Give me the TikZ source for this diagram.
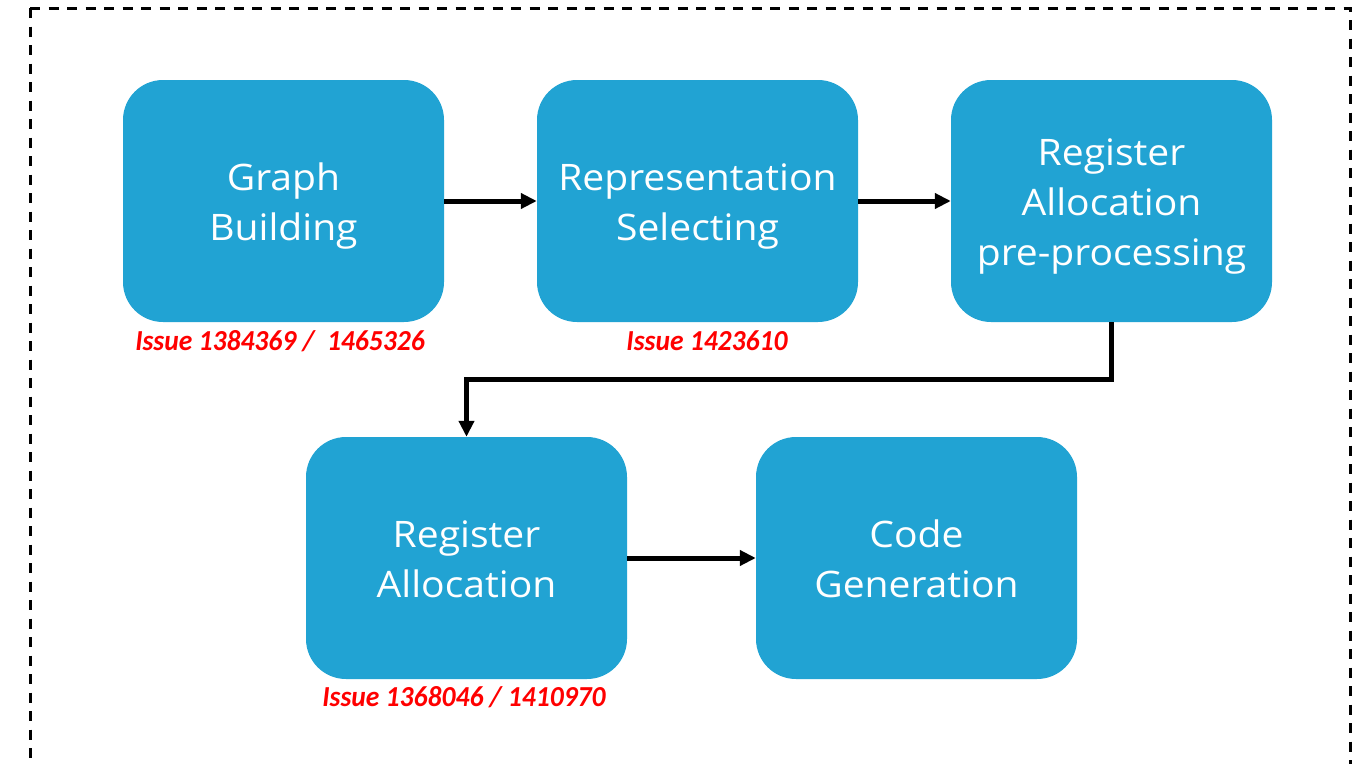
\documentclass[tikz,border=0pt]{standalone}
\usepackage{fontspec}
\setmainfont{Open Sans}[FakeStretch=1.07]
\newfontfamily\issuefont[FakeStretch=0.95]{Carlito}
\usetikzlibrary{arrows.meta}
\definecolor{boxblue}{RGB}{33,163,211}
\definecolor{issuered}{RGB}{255,0,0}
\begin{document}
\begin{tikzpicture}[x=1pt,y=-1pt,
  stage/.style={fill=boxblue, rounded corners=40pt, minimum width=321pt, minimum height=242pt,
     inner sep=0pt},
  stagetext/.style={text=white, align=center, inner sep=0pt,
     font=\fontsize{36.5}{50}\selectfont},
  issue/.style={text=issuered, font=\issuefont\fontsize{29}{32}\selectfont\bfseries\itshape, inner sep=0pt},
  flow/.style={line width=5pt, -{Triangle[length=16pt,width=15pt]}}]
\useasboundingbox (0,0) rectangle (1368,763);
\draw[line width=3pt, dash pattern=on 10pt off 8.5pt] (30,8) -- (1350,8) -- (1350,800);
\draw[line width=3pt, dash pattern=on 10pt off 8.5pt] (30,8) -- (30,800);
\node[stage] (gb) at (283.5,201) {};
\node[stage] (rs) at (697.5,201) {};
\node[stage] (rp) at (1111.5,201) {};
\node[stage] (ra) at (466.5,558) {};
\node[stage] (cg) at (916.5,558) {};
\node[stagetext] (gbt) at (283.5,206) {Graph\\Building};
\node[stagetext] (rst) at (697.5,206) {Representation\\Selecting};
\node[stagetext] (rpt) at (1111.5,206) {Register\\Allocation\\pre-processing};
\node[stagetext] (rat) at (466.5,559) {Register\\Allocation};
\node[stagetext] (cgt) at (916.5,559) {Code\\Generation};
\node[issue] (i1) at (280,341) {Issue 1384369 /\ \ 1465326};
\node[issue] (i2) at (707,341) {Issue 1423610};
\node[issue] (i3) at (464,697) {Issue 1368046 / 1410970};
\draw[flow] (gb.east) -- (rs.west);
\draw[flow] (rs.east) -- (rp.west);
\draw[flow] (rp.south) -- ++(0,57) -| (ra.north);
\draw[flow] (ra.east) -- (cg.west);
\end{tikzpicture}
\end{document}
